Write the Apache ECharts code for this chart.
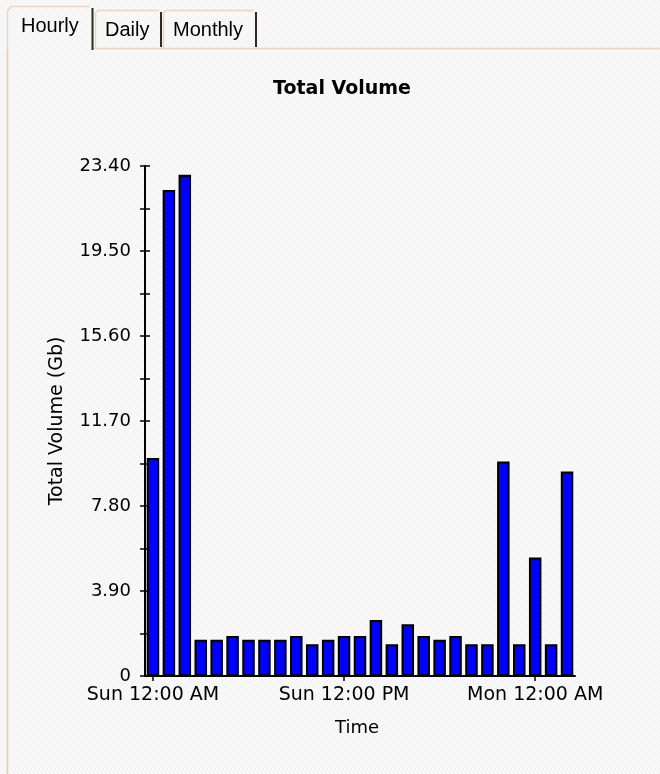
<!DOCTYPE html>
<html>
<head>
<meta charset="utf-8">
<script src="https://cdn.jsdelivr.net/npm/echarts@6/dist/echarts.min.js"></script>
<style>
html,body{margin:0;padding:0;background:#f8f8f8;}
#chart{width:660px;height:774px;}
</style>
</head>
<body>
<div id="chart"></div>
<script>
var categories = [
  "Sun 12:00 AM","Sun 1:00 AM","Sun 2:00 AM","Sun 3:00 AM","Sun 4:00 AM","Sun 5:00 AM",
  "Sun 6:00 AM","Sun 7:00 AM","Sun 8:00 AM","Sun 9:00 AM","Sun 10:00 AM","Sun 11:00 AM",
  "Sun 12:00 PM","Sun 1:00 PM","Sun 2:00 PM","Sun 3:00 PM","Sun 4:00 PM","Sun 5:00 PM",
  "Sun 6:00 PM","Sun 7:00 PM","Sun 8:00 PM","Sun 9:00 PM","Sun 10:00 PM","Sun 11:00 PM",
  "Mon 12:00 AM","Mon 1:00 AM","Mon 2:00 AM"
];
var totalVolumeGb = [
  10.0, 22.3, 23.0, 1.66, 1.66, 1.84, 1.66, 1.66, 1.66, 1.84, 1.46, 1.66, 1.84, 1.84,
  2.57, 1.46, 2.37, 1.84, 1.66, 1.84, 1.46, 1.46, 9.84, 1.46, 5.44, 1.46, 9.38
];
var labeledIndices = [0, 12, 24];
var tabNames = ["Hourly", "Daily", "Monthly"];
var chartTitle = "Total Volume";
var yAxisName = "Total Volume (Gb)";
var xAxisName = "Time";
var yMin = 0, yMax = 23.4, yInterval = 3.9;

// subtle diagonal hatch background
function hatch() {
  var c = document.createElement('canvas');
  c.width = 4; c.height = 4;
  var g = c.getContext('2d');
  g.fillStyle = '#f9f9f9'; g.fillRect(0, 0, 4, 4);
  g.fillStyle = '#f0f0f0';
  for (var i = 0; i < 4; i++) g.fillRect(i, 3 - i, 1, 1);
  return c;
}

var chart = echarts.init(document.getElementById('chart'), null, {renderer: 'canvas'});
var FONT = 'DejaVu Sans';
var peach = '#eed3c2';
var dark = '#2e2a1e';
var showIdx = function (idx) { return labeledIndices.indexOf(idx) >= 0; };

var option = {
  backgroundColor: {image: hatch(), repeat: 'repeat'},
  animation: false,
  title: {
    text: chartTitle,
    left: 337, top: 75, textAlign: 'center',
    textStyle: {fontFamily: FONT, fontWeight: 'bold', fontSize: 19, color: '#000'}
  },
  grid: {left: 145, right: 85, top: 166, bottom: 98, containLabel: false},
  xAxis: [{
    type: 'category', data: categories, boundaryGap: true,
    name: xAxisName, nameLocation: 'middle', nameGap: 43,
    nameTextStyle: {fontFamily: FONT, fontSize: 18, color: '#000', padding: [0, 6, 0, 0]},
    axisLine: {lineStyle: {color: '#000', width: 2}},
    axisTick: {show: true, alignWithLabel: true, interval: function (i) { return showIdx(i); }, length: 5, lineStyle: {color: '#000', width: 1.5}},
    axisLabel: {interval: function (i) { return showIdx(i); }, margin: 10, fontFamily: FONT, fontSize: 19, color: '#000'},
    splitLine: {show: false}
  }, {
    type: 'category', data: categories, boundaryGap: true, position: 'bottom', offset: 0,
    axisLine: {show: false},
    axisTick: {show: true, inside: true, alignWithLabel: true, interval: function (i) { return showIdx(i); }, length: 5, lineStyle: {color: '#000', width: 1.5}},
    axisLabel: {show: false}, splitLine: {show: false}
  }],
  yAxis: [{
    type: 'value', min: yMin, max: yMax, interval: yInterval,
    name: yAxisName, nameLocation: 'middle', nameGap: 78, nameRotate: 90,
    nameTextStyle: {fontFamily: FONT, fontSize: 19, color: '#000'},
    axisLine: {show: true, lineStyle: {color: '#000', width: 2}},
    axisTick: {show: true, length: 5, lineStyle: {color: '#000', width: 1.5}},
    minorTick: {show: true, splitNumber: 2, length: 5, lineStyle: {color: '#000', width: 1.5}},
    axisLabel: {margin: 14, fontFamily: FONT, fontSize: 18, color: '#000',
      formatter: function (v) { return v === 0 ? '0' : v.toFixed(2); }},
    splitLine: {show: false}, minorSplitLine: {show: false}
  }, {
    type: 'value', min: yMin, max: yMax, interval: yInterval, position: 'left', offset: 0,
    axisLine: {show: false},
    axisTick: {show: true, inside: true, length: 5, lineStyle: {color: '#000', width: 1.5}},
    minorTick: {show: true, splitNumber: 2, length: 5, lineStyle: {color: '#000', width: 1.5}},
    axisLabel: {show: false}, splitLine: {show: false}
  }],
  series: [{
    type: 'bar', data: totalVolumeGb, xAxisIndex: 0, yAxisIndex: 0,
    barWidth: 12.5,
    itemStyle: {color: '#0000ff', borderColor: '#000', borderWidth: 2}
  }],
  graphic: [
    // panel borders
    {type: 'line', shape: {x1: 93, y1: 48.5, x2: 660, y2: 48.5}, style: {stroke: peach, lineWidth: 1.5}, z: 10},
    {type: 'line', shape: {x1: 7.5, y1: 48, x2: 7.5, y2: 774}, style: {stroke: '#ecc9a8', lineWidth: 1.5}, z: 10},
    // Hourly tab (active)
    {type: 'polyline', shape: {points: [[7.5, 50], [7.5, 11], [11, 6.5], [90, 6.5]]}, style: {stroke: peach, lineWidth: 1.5, fill: null}, z: 10},
    {type: 'line', shape: {x1: 92.5, y1: 8, x2: 92.5, y2: 50}, style: {stroke: dark, lineWidth: 2}, z: 10},
    {type: 'text', x: 21, y: 26, style: {text: tabNames[0], fontFamily: 'Liberation Sans', fontSize: 20, fill: '#000', verticalAlign: 'middle'}, z: 10},
    // Daily tab
    {type: 'polyline', shape: {points: [[95.5, 48], [95.5, 13], [98, 10.5], [159, 10.5]]}, style: {stroke: peach, lineWidth: 1.5, fill: null}, z: 10},
    {type: 'line', shape: {x1: 161, y1: 12, x2: 161, y2: 47}, style: {stroke: dark, lineWidth: 2}, z: 10},
    {type: 'text', x: 105, y: 30, style: {text: tabNames[1], fontFamily: 'Liberation Sans', fontSize: 20, fill: '#000', verticalAlign: 'middle'}, z: 10},
    // Monthly tab
    {type: 'polyline', shape: {points: [[163.5, 48], [163.5, 13], [166, 10.5], [254, 10.5]]}, style: {stroke: peach, lineWidth: 1.5, fill: null}, z: 10},
    {type: 'line', shape: {x1: 256, y1: 12, x2: 256, y2: 47}, style: {stroke: dark, lineWidth: 2}, z: 10},
    {type: 'text', x: 173, y: 30, style: {text: tabNames[2], fontFamily: 'Liberation Sans', fontSize: 20, fill: '#000', verticalAlign: 'middle'}, z: 10}
  ]
};
chart.setOption(option);
</script>
</body>
</html>
